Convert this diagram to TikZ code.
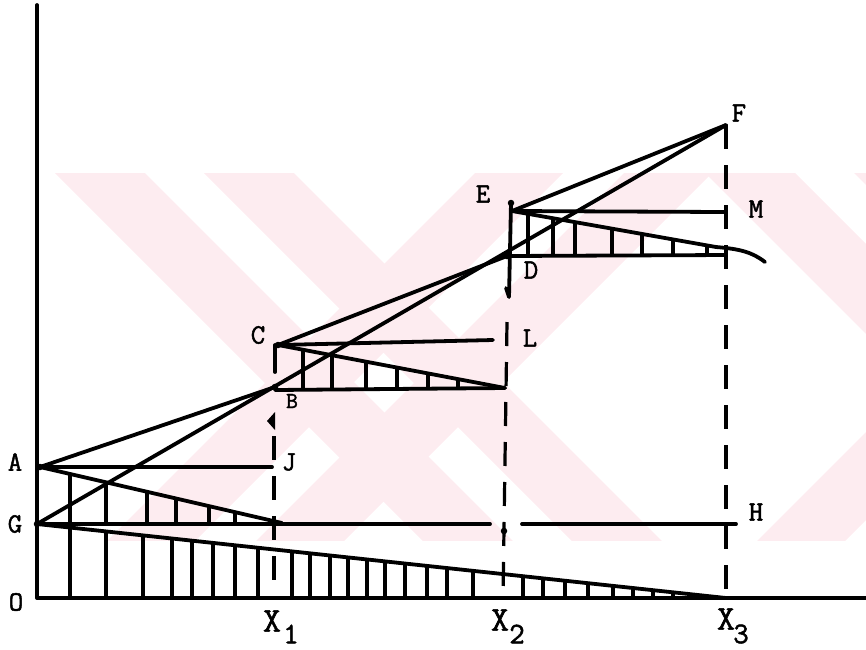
\documentclass[tikz,border=0pt]{standalone}
\usepackage{fontspec}
\newfontfamily\tw{Latin Modern Mono}[FakeBold=1.6]
\definecolor{wm}{RGB}{253,236,240}
\begin{document}
\begin{tikzpicture}[x=1pt,y=-1pt,
  ln/.style={line width=3.8pt, line cap=round, line join=round},
  hl/.style={line width=3.2pt},
  dl/.style={line width=3.2pt, dash pattern=on 24pt off 16pt},
  lab/.style={font=\tw\fontsize{28}{28}\selectfont, inner sep=0pt},
  xlab/.style={font=\tw\fontsize{35}{35}\selectfont, inner sep=0pt},
  sublab/.style={font=\tw\fontsize{30}{30}\selectfont, inner sep=0pt},
  dot/.style={circle, fill=black, inner sep=0pt, minimum size=6.5pt}
]
\useasboundingbox (0,0) rectangle (866,649);
% watermark
\begin{scope}
  \clip (55,173) rectangle (866,540);
  \foreach \a in {55,204,705,854}
    \fill[wm] (\a,173) -- ++(90,0) -- ++(420,420) -- ++(-90,0) -- cycle;
  \foreach \a in {475,624,1125,1274}
    \fill[wm] (\a,173) -- ++(88,0) -- ++(-420,420) -- ++(-88,0) -- cycle;
\end{scope}
% points
\coordinate (O) at (37,598);
\coordinate (Ytop) at (37,5);
\coordinate (Xend) at (866,598);
\coordinate (A) at (40,467);
\coordinate (G) at (37,524);
\coordinate (B) at (275,387);
\coordinate (B2) at (275,390);
\coordinate (C) at (278,345);
\coordinate (D) at (507,256);
\coordinate (D2) at (726,255);
\coordinate (E) at (512,211);
\coordinate (F) at (726,125);
\coordinate (J) at (272,467);
\coordinate (L) at (493,340);
\coordinate (M) at (724,212);
\coordinate (H) at (736,524);
\coordinate (Gm1) at (490,524);
\coordinate (Gm2) at (522,524);
\coordinate (T1) at (282,523);
\coordinate (T2) at (505,388);
\coordinate (T3) at (716,247);
\coordinate (Tail) at (765,262);
\coordinate (X1) at (274,598);
\coordinate (X2) at (503,598);
\coordinate (X3) at (726,598);
% axes
\draw[ln] (Ytop) -- (O) -- (Xend);
% main lines
\draw[ln] (A) -- (B);
\draw[ln] (C) -- (D);
\draw[ln] (E) -- (F);
\draw[ln] (G) -- (F);
\draw[ln] (A) -- (J);
\draw[ln] (C) -- (L);
\draw[ln] (E) -- (M);
\draw[ln] (G) -- (Gm1);
\draw[ln] (Gm2) -- (H);
\draw[ln] (B2) -- (T2);
\draw[ln] (D) -- (D2);
\draw[ln] (A) -- (T1);
\draw[ln] (C) -- (T2);
\draw[ln] (E) -- (T3) .. controls (740,249) and (752,252) .. (Tail);
\draw[ln] (G) -- (X3);
% hatching
\foreach \x in {70,106,147,176,209,235}
  \draw[hl] (\x,{467+(\x-40)/242*56}) -- (\x,524);
\foreach \x in {303,332,366,397,428,458}
  \draw[hl] (\x,{345+(\x-278)/227*43}) -- (\x,389);
\foreach \x in {528,553,575,612,642,673,707}
  \draw[hl] (\x,{211+(\x-512)/204*36}) -- (\x,256);
\foreach \x in {70,106,143,172,192,213,235,258,292,310,330,348,367,385,405,427,447,473,523,543,565,588,613,633,653,673,692,710}
  \draw[hl] (\x,{524+(\x-37)/689*74}) -- (\x,598);
% verticals
\draw[ln] (275,345) -- (275,372);
\fill (267,421) -- (275,412) -- (275,430) -- cycle;
\draw[dl] (274,436) -- (X1);
\draw[ln] (511,203) -- (509,297) -- (506,288);
\draw[dl] (507,322) -- (X2);
\draw[dl] (F) -- (X3);
% dots
\node[dot] (dA) at (A) {};
\node[dot] (dG) at (G) {};
\node[dot] (dC) at (C) {};
\node[dot] (dE) at (511,203) {};
\node[dot] (dD) at (D) {};
\node[dot] (dB) at (B) {};
\node[dot] (dX2) at (504,531) {};
% labels
\node[lab] (lO) at (16,602) {O};
\node[lab] (lG) at (15,524) {G};
\node[lab] (lA) at (15,462) {A};
\node[lab] (lJ) at (289,462) {J};
\node[lab] (lC) at (258,335) {C};
\node[lab, font=\tw\fontsize{23}{23}\selectfont] (lB) at (292,401) {B};
\node[lab] (lE) at (483,194) {E};
\node[lab] (lD) at (531,270) {D};
\node[lab] (lL) at (530,338) {L};
\node[lab] (lM) at (756,209) {M};
\node[lab] (lH) at (756,512) {H};
\node[lab] (lF) at (739,113) {F};
\node[xlab] (lX1) at (272,621) {X};
\node[sublab] (lX1s) at (291,634) {1};
\node[xlab] (lX2) at (500,620) {X};
\node[sublab] (lX2s) at (517,634) {2};
\node[xlab] (lX3) at (726,619) {X};
\node[sublab] (lX3s) at (741,634) {3};
\end{tikzpicture}
\end{document}
